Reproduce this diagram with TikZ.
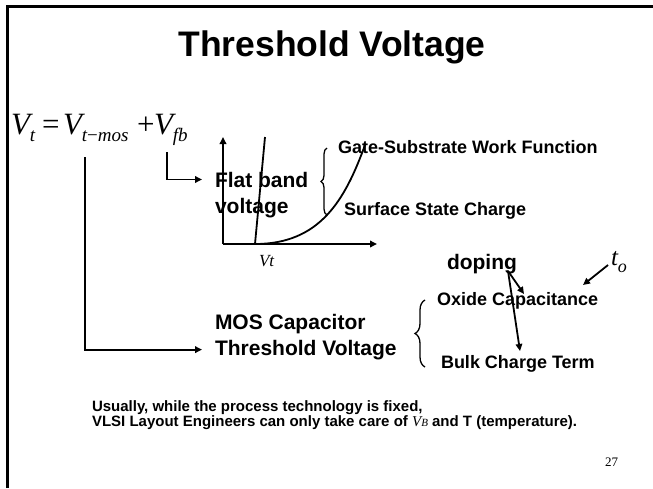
\documentclass[tikz,border=0pt]{standalone}
\usepackage{fontspec}
\setmainfont{Liberation Sans}
\newfontfamily\tnr{Liberation Serif}
\usetikzlibrary{arrows.meta,decorations.pathreplacing}
\newcommand{\eqsub}[1]{\raisebox{-7pt}{\fontsize{19}{19}\selectfont #1}}
\begin{document}
\begin{tikzpicture}[x=1pt,y=-1pt,
  every node/.style={inner sep=0pt,outer sep=0pt},
  ln/.style={line width=1.8pt},
  arr/.style={line width=1.8pt,-{Triangle[length=7pt,width=6.5pt]}},
  brc/.style={line width=1.3pt,decorate,decoration={brace,amplitude=#1}},
  big/.style={font=\fontsize{21}{25}\selectfont\bfseries,anchor=base west},
  small/.style={font=\fontsize{18}{21}\selectfont\bfseries,anchor=base west},
  note/.style={font=\fontsize{15}{17}\selectfont\bfseries,anchor=base west},
  eqs/.style={font=\tnr\fontsize{31}{31}\selectfont,anchor=base west}]
\useasboundingbox (0,0) rectangle (653,488);
% frame
\draw[line width=3pt] (7.5,488) -- (7.5,6.5) -- (653,6.5);
% title
\node[font=\fontsize{35.5}{40}\selectfont\bfseries,anchor=base] (title) at (332,56) {Threshold Voltage};
% equation
\node[eqs] (vt) at (11,134) {\itshape V\eqsub{t}};
\node[eqs] (eqsign) at (42,134) {=};
\node[eqs] (vmos) at (63,134) {\itshape V\eqsub{t{\upshape −}mos}};
\node[eqs] (plus) at (137,134) {+};
\node[eqs] (vfb) at (154,134) {\itshape V\eqsub{fb}};
\coordinate (c1) at (85,157);
\coordinate (c2) at (167,152);
% flat band
\node[big] (fb1) at (215,187) {Flat band};
\node[big] (fb2) at (215,213) {voltage};
\draw[arr] (c2) |- ([xshift=-13pt]fb1.west);
% MOS capacitor
\node[big] (mos1) at (215,329) {MOS Capacitor};
\node[big] (mos2) at (215,355) {Threshold Voltage};
\draw[arr] (c1) |- ([xshift=-13pt]mos2.west);
% graph
\coordinate (o) at (223,244);
\coordinate (yt) at (223,137);
\coordinate (xt) at (377,244);
\draw[arr] (o) -- (yt);
\draw[arr] (o) -- (xt);
\coordinate (vt0) at (255,244);
\coordinate (vt1) at (265,137);
\coordinate (cv1) at (365,145);
\draw[ln] (vt0) -- (vt1);
\draw[ln] (vt0) .. controls (320,244) and (345,200) .. (cv1);
\node[font=\tnr\itshape\fontsize{17}{17}\selectfont,anchor=base west] (vtl) at (259,266) {Vt};
% brace 1
\coordinate (b1a) at (327,215);
\coordinate (b1b) at (327,148);
\draw[brc=6pt] (b1a) -- (b1b);
\node[small] (gate) at (338,153) {Gate-Substrate Work Function};
\node[small] (surf) at (344,215) {Surface State Charge};
% doping etc
\node[big] (dop) at (447,269) {doping};
\node[font=\tnr\itshape\fontsize{25}{25}\selectfont,anchor=base west] (to) at (611,265) {t\raisebox{-7pt}{\fontsize{18}{18}\selectfont o}};
\node[small] (oxide) at (437,305) {Oxide Capacitance};
\node[small] (bulk) at (441,368) {Bulk Charge Term};
\coordinate (dp) at (508,271);
\coordinate (ox1) at (524,294);
\coordinate (bk1) at (520,351);
\coordinate (to0) at (608,265);
\coordinate (to1) at (583,285);
\draw[arr] (dp) -- (ox1);
\draw[arr] (dp) -- (bk1);
\draw[arr] (to0) -- (to1);
% brace 2
\coordinate (b2a) at (425,367);
\coordinate (b2b) at (425,300);
\draw[brc=10pt] (b2a) -- (b2b);
% note
\node[note] (n1) at (92,411) {Usually, while the process technology is fixed,};
\node[note] (n2) at (92,426) {VLSI Layout Engineers can only take care of {\tnr\itshape\mdseries V\raisebox{-0.5pt}{\fontsize{11}{11}\selectfont B}} and T (temperature).};
\node[font=\tnr\fontsize{13}{13}\selectfont,anchor=base west] (pg) at (605,466) {27};
\end{tikzpicture}
\end{document}
